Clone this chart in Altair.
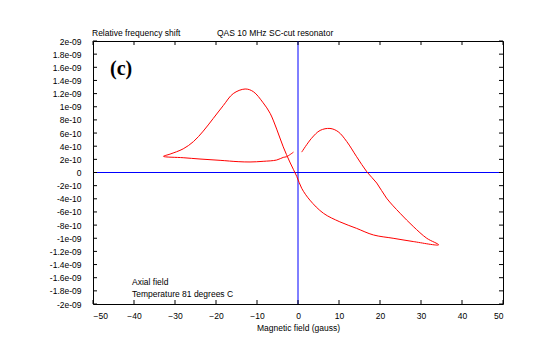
import altair as alt
import pandas as pd

# Hysteresis loop (x in gauss, y in units of 1e-10)
curve_x = [-1.1, -2.8, -3.6, -5.2, -8.5, -11.7, -14.6, -19.0, -23.9, -28.0, -32.8,
           -31.2, -28.0, -25.5, -23.1, -20.7, -18.2, -15.8, -12.9, -10.9, -8.5, -6.8,
           -5.2, -3.6, -2.0, -0.3, 0.9, 2.9, 6.2, 10.2, 14.3, 18.4, 23.2, 28.1, 34.3,
           31.4, 28.1, 24.9, 21.6, 19.2, 16.8, 14.3, 11.9, 9.8, 7.8, 5.4, 3.3, 0.9]
curve_y_e10 = [3.1, 2.4, 2.3, 1.9, 1.7, 1.6, 1.65, 1.85, 2.05, 2.25, 2.46,
               2.8, 3.6, 4.7, 6.3, 8.2, 10.2, 12.0, 12.7, 12.3, 10.6, 9.0,
               6.6, 3.9, 1.6, -0.6, -2.4, -4.2, -6.2, -7.5, -8.5, -9.5, -10.0, -10.5, -11.0,
               -10.0, -8.2, -6.2, -3.9, -1.6, 0.1, 2.4, 4.7, 6.2, 6.7, 6.4, 5.2, 3.1]

x_ticks = [-50, -40, -30, -20, -10, 0, 10, 20, 30, 40, 50]
y_ticks_e10 = [-20, -18, -16, -14, -12, -10, -8, -6, -4, -2, 0, 2, 4, 6, 8, 10, 12, 14, 16, 18, 20]
y_tick_labels = ["-2e-09", "-1.8e-09", "-1.6e-09", "-1.4e-09", "-1.2e-09", "-1e-09",
                 "-8e-10", "-6e-10", "-4e-10", "-2e-10", "0", "2e-10", "4e-10", "6e-10",
                 "8e-10", "1e-09", "1.2e-09", "1.4e-09", "1.6e-09", "1.8e-09", "2e-09"]

FONT = "Liberation Sans"
W, H = 410, 263

curve = pd.DataFrame({
    "x": curve_x,
    "y": [v * 1e-10 for v in curve_y_e10],
    "order": list(range(len(curve_x))),
})
yt = pd.DataFrame({"y": [v * 1e-10 for v in y_ticks_e10]})
xt = pd.DataFrame({"x": x_ticks})

xscale = alt.Scale(domain=[-50, 50], nice=False, zero=False)
yscale = alt.Scale(domain=[-2e-9, 2e-9], nice=False, zero=False)

label_expr = "[" + ",".join("'" + s + "'" for s in y_tick_labels) + "][round(datum.value*5e9)+10]"

xaxis = alt.Axis(values=x_ticks, title="Magnetic field (gauss)", labelFont=FONT,
                 labelFontSize=8.5, labelPadding=7, titleFont=FONT, titleFontSize=8.5,
                 titleFontWeight="normal", titlePadding=4, labelColor="black",
                 titleColor="black", domain=False, ticks=False, grid=False)
yaxis = alt.Axis(values=[v * 1e-10 for v in y_ticks_e10], labelExpr=label_expr, title=None,
                 labelFont=FONT, labelFontSize=8.5, labelPadding=12, labelColor="black",
                 domain=False, ticks=False, grid=False)

X = alt.X("x:Q", scale=xscale, axis=xaxis)
Y = alt.Y("y:Q", scale=yscale, axis=yaxis)

line = alt.Chart(curve).mark_line(color="#ff0000", strokeWidth=1,
                                  interpolate="catmull-rom").encode(
    x=X, y=Y, order=alt.Order("order:Q"))

zero_v = alt.Chart(pd.DataFrame({"x": [0]})).mark_rule(color="#0000ff", strokeWidth=1).encode(x=X)
zero_h = alt.Chart(pd.DataFrame({"y": [0.0]})).mark_rule(color="#0000ff", strokeWidth=1).encode(y=Y)

tick_left = alt.Chart(yt).mark_rule(color="black").encode(y=Y, x=alt.value(0), x2=alt.value(4))
tick_right = alt.Chart(yt).mark_rule(color="black").encode(y=Y, x=alt.value(W - 4), x2=alt.value(W))
tick_bottom = alt.Chart(xt).mark_rule(color="black").encode(x=X, y=alt.value(H - 4), y2=alt.value(H))
tick_top = alt.Chart(xt).mark_rule(color="black").encode(x=X, y=alt.value(0), y2=alt.value(4))

def label(text, px, py, size=8.5, font=FONT, weight="normal"):
    return alt.Chart(pd.DataFrame({"t": [text]})).mark_text(
        align="left", baseline="alphabetic", font=font, fontSize=size,
        fontWeight=weight, color="black").encode(
        x=alt.value(px), y=alt.value(py), text="t:N")

texts = [
    label("Relative frequency shift", -1, -5),
    label("QAS 10 MHz SC-cut resonator", 124, -5),
    label("(c)", 17, 34, size=20, font="Liberation Serif, Times New Roman, serif", weight="bold"),
    label("Axial field", 39, 244),
    label("Temperature 81 degrees C", 39, 256),
]

chart = alt.layer(zero_h, zero_v, line, tick_left, tick_right, tick_bottom, tick_top,
                  *texts).properties(
    width=W, height=H,
    autosize=alt.AutoSizeParams(type="none"),
    padding={"left": 85, "top": 33, "right": 29, "bottom": 43},
    background="white",
).configure_view(stroke="black", strokeWidth=1)

chart.save("out.html", embed_options={"renderer": "svg", "actions": False})
